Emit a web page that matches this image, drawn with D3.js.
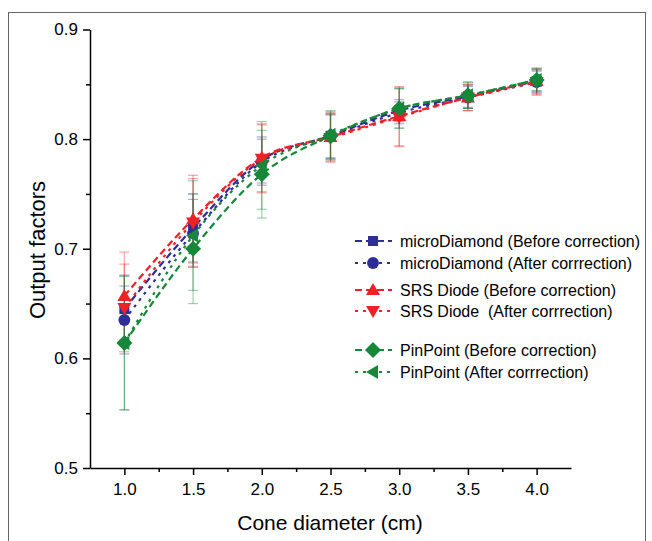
<!DOCTYPE html>
<html>
<head>
<meta charset="utf-8">
<script src="https://cdn.jsdelivr.net/npm/d3@7"></script>
<style>
  body { margin: 0; background: #fff; }
  svg { display: block; font-family: "Liberation Sans", Arial, sans-serif; }
  .axis path, .axis line { stroke: #000; stroke-width: 1.5px; }
  .axis text { font-size: 17px; fill: #000; }
</style>
</head>
<body>
<svg id="chart" width="652" height="541"></svg>
<script>
// cone diameters (cm)
const cones = [1.0, 1.5, 2.0, 2.5, 3.0, 3.5, 4.0];

// output factors
const mdBefore  = [0.645, 0.719, 0.781, 0.803, 0.826, 0.839, 0.853];
const mdAfter   = [0.635, 0.714, 0.779, 0.802, 0.824, 0.838, 0.852];
const srsBefore = [0.657, 0.727, 0.783, 0.802, 0.821, 0.838, 0.853];
const srsAfter  = [0.646, 0.724, 0.782, 0.801, 0.820, 0.838, 0.852];
const ppBefore  = [0.614, 0.700, 0.768, 0.803, 0.828, 0.840, 0.854];
const ppAfter   = [0.614, 0.712, 0.776, 0.804, 0.828, 0.840, 0.854];

// error bar half widths
const mdErr  = [0.031, 0.031, 0.021, 0.020, 0.010, 0.010, 0.010];
const srsErr = [0.040, 0.040, 0.031, 0.022, 0.027, 0.012, 0.012];
const ppErr  = [0.061, 0.050, 0.040, 0.022, 0.018, 0.012, 0.010];

const xTicks = [1.0, 1.5, 2.0, 2.5, 3.0, 3.5, 4.0];
const yTicks = [0.5, 0.6, 0.7, 0.8, 0.9];

const blue = "#2d2f96", red = "#ee2127", green = "#17873a";

const series = [
  { name: "microDiamond (Before correction)", values: mdBefore, err: mdErr, color: blue, dash: "7,4", marker: "square", ly: 241 },
  { name: "microDiamond (After corrrection)", values: mdAfter, err: mdErr, color: blue, dash: "3,5", marker: "circle", ly: 263 },
  { name: "SRS Diode (Before correction)", values: srsBefore, err: srsErr, color: red, dash: "7,4", marker: "triUp", ly: 290 },
  { name: "SRS Diode\u00a0 (After corrrection)", values: srsAfter, err: srsErr, color: red, dash: "3,5", marker: "triDown", ly: 311 },
  { name: "PinPoint (Before correction)", values: ppBefore, err: ppErr, color: green, dash: "7,4", marker: "diamond", ly: 350 },
  { name: "PinPoint (After corrrection)", values: ppAfter, err: ppErr, color: green, dash: "3,5", marker: "triLeft", ly: 372 }
];

const svg = d3.select("#chart");

// outer frame
svg.append("rect")
  .attr("x", 8.5).attr("y", 12.5)
  .attr("width", 637).attr("height", 545)
  .attr("fill", "none").attr("stroke", "#666").attr("stroke-width", 1);

const x = d3.scaleLinear().domain([0.75, 4.25]).range([90, 571]);
const y = d3.scaleLinear().domain([0.5, 0.9]).range([468, 29.5]);

// minor ticks
svg.append("g")
  .attr("class", "axis")
  .attr("transform", "translate(0,468)")
  .call(d3.axisBottom(x).tickValues([1.25, 1.75, 2.25, 2.75, 3.25, 3.75]).tickSize(4).tickFormat(""))
  .call(g => g.select(".domain").remove());
svg.append("g")
  .attr("class", "axis")
  .attr("transform", "translate(90,0)")
  .call(d3.axisLeft(y).tickValues([0.55, 0.65, 0.75, 0.85]).tickSize(4).tickFormat(""))
  .call(g => g.select(".domain").remove());

// main axes
svg.append("g")
  .attr("class", "axis")
  .attr("transform", "translate(0,468)")
  .call(d3.axisBottom(x).tickValues(xTicks).tickSize(7).tickSizeOuter(0).tickPadding(8).tickFormat(d3.format(".1f")));
svg.append("g")
  .attr("class", "axis")
  .attr("transform", "translate(90,0)")
  .call(d3.axisLeft(y).tickValues(yTicks).tickSize(7).tickSizeOuter(0).tickPadding(5).tickFormat(d3.format(".1f")));

// axis titles
svg.append("text")
  .attr("x", 330).attr("y", 530)
  .attr("text-anchor", "middle")
  .attr("font-size", 21)
  .text("Cone diameter (cm)");
svg.append("text")
  .attr("transform", "translate(45,250) rotate(-90)")
  .attr("text-anchor", "middle")
  .attr("font-size", 22)
  .text("Output factors");

// marker shapes
function markerPath(type) {
  switch (type) {
    case "square": return "M-5,-5L5,-5L5,5L-5,5Z";
    case "circle": return d3.symbol(d3.symbolCircle, 110)();
    case "triUp": return "M0,-7L7,5L-7,5Z";
    case "triDown": return "M0,7L7,-5L-7,-5Z";
    case "diamond": return "M0,-8L8,0L0,8L-8,0Z";
    case "triLeft": return "M-7,0L5,-7L5,7Z";
  }
}

// error bars
const errG = svg.append("g");
series.forEach(s => {
  s.values.forEach((v, i) => {
    const cx = x(cones[i]);
    const g = errG.append("g").attr("stroke", s.color).attr("stroke-opacity", 0.4).attr("stroke-width", 1.2);
    g.append("line").attr("x1", cx).attr("x2", cx).attr("y1", y(v - s.err[i])).attr("y2", y(v + s.err[i]));
    [v - s.err[i], v + s.err[i]].forEach(e => {
      g.append("line").attr("x1", cx - 5).attr("x2", cx + 5).attr("y1", y(e)).attr("y2", y(e));
    });
  });
});

// lines
const line = d3.line()
  .x((d, i) => x(cones[i]))
  .y(d => y(d))
  .curve(d3.curveMonotoneX);

series.forEach(s => {
  svg.append("path")
    .datum(s.values)
    .attr("fill", "none")
    .attr("stroke", s.color)
    .attr("stroke-width", 2.2)
    .attr("stroke-dasharray", s.dash)
    .attr("d", line);
});

// markers
series.forEach(s => {
  svg.append("g").selectAll("path")
    .data(s.values)
    .join("path")
    .attr("transform", (d, i) => "translate(" + x(cones[i]) + "," + y(d) + ")")
    .attr("d", markerPath(s.marker))
    .attr("fill", s.color);
});

// legend
const legend = svg.append("g");
series.forEach(s => {
  const g = legend.append("g").attr("transform", "translate(0," + s.ly + ")");
  g.append("line")
    .attr("x1", 355).attr("x2", 392)
    .attr("stroke", s.color).attr("stroke-width", 2.2)
    .attr("stroke-dasharray", s.dash);
  g.append("path")
    .attr("transform", "translate(373,0)")
    .attr("d", markerPath(s.marker))
    .attr("fill", s.color);
  g.append("text")
    .attr("x", 400).attr("y", 6)
    .attr("font-size", 16)
    .text(s.name);
});
</script>
</body>
</html>
